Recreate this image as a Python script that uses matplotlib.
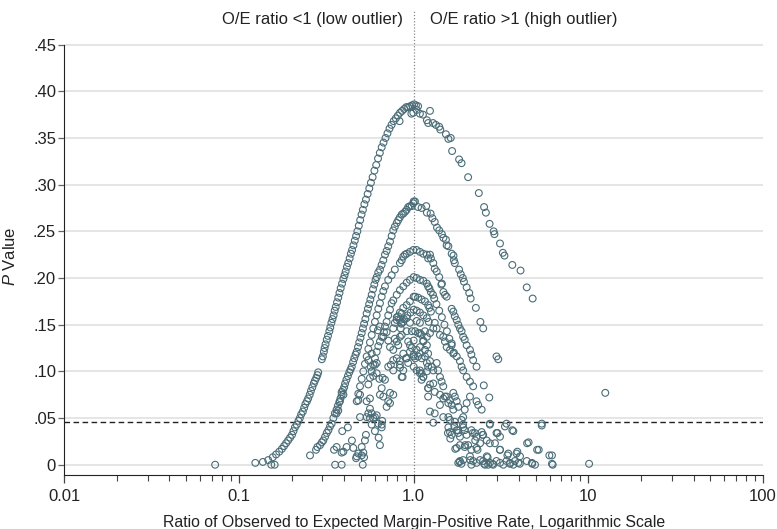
import matplotlib
matplotlib.use("Agg")
import matplotlib.pyplot as plt
from matplotlib.ticker import FixedLocator, LogLocator, NullFormatter

plt.rcParams['font.family'] = ['Liberation Sans Narrow', 'Liberation Sans', 'DejaVu Sans']
plt.rcParams['mathtext.fontset'] = 'custom'
plt.rcParams['mathtext.it'] = 'Liberation Sans:italic'

# (O/E ratio, P value), grouped by the visible arcs
arc_top_left = [
    (0.124, 0.002), (0.137, 0.003), (0.147, 0.005), (0.153, 0.000), (0.160, 0.000),
    (0.156, 0.008), (0.163, 0.011), (0.170, 0.014), (0.176, 0.017), (0.181, 0.020),
    (0.186, 0.023), (0.191, 0.026), (0.196, 0.029), (0.201, 0.032), (0.205, 0.036),
    (0.209, 0.040), (0.214, 0.043), (0.219, 0.047), (0.223, 0.050), (0.227, 0.054),
    (0.232, 0.057), (0.236, 0.061), (0.240, 0.065), (0.245, 0.068), (0.249, 0.071),
    (0.254, 0.075), (0.258, 0.079), (0.263, 0.083), (0.268, 0.087), (0.272, 0.090),
    (0.277, 0.093), (0.281, 0.096), (0.284, 0.099), (0.298, 0.113), (0.302, 0.116),
    (0.306, 0.121), (0.309, 0.125), (0.313, 0.129), (0.318, 0.134), (0.323, 0.138),
    (0.329, 0.143), (0.333, 0.147), (0.338, 0.152), (0.343, 0.156), (0.348, 0.160),
    (0.353, 0.165), (0.358, 0.169), (0.364, 0.174), (0.370, 0.179), (0.376, 0.184),
    (0.382, 0.189), (0.389, 0.194), (0.396, 0.199), (0.402, 0.203), (0.408, 0.207),
    (0.415, 0.212), (0.422, 0.216), (0.430, 0.221), (0.437, 0.226), (0.444, 0.230),
    (0.452, 0.235), (0.460, 0.240), (0.468, 0.245), (0.476, 0.250), (0.485, 0.256),
    (0.494, 0.262), (0.503, 0.268), (0.512, 0.273), (0.522, 0.279), (0.533, 0.284),
    (0.545, 0.290), (0.557, 0.296), (0.569, 0.302), (0.582, 0.308), (0.596, 0.315),
    (0.610, 0.321), (0.625, 0.328), (0.640, 0.334), (0.656, 0.340), (0.672, 0.345),
    (0.690, 0.350), (0.708, 0.355), (0.727, 0.360), (0.747, 0.364), (0.768, 0.368),
    (0.790, 0.371), (0.812, 0.374), (0.835, 0.377), (0.858, 0.379), (0.882, 0.381),
    (0.906, 0.383), (0.930, 0.383), (0.955, 0.384), (0.980, 0.385), (1.005, 0.386),
    (0.970, 0.376), (0.995, 0.377), (0.830, 0.368),
]

arc_top_right = [
    (1.030, 0.385), (1.060, 0.384), (1.040, 0.380), (1.086, 0.376), (1.130, 0.375),
    (1.190, 0.369), (1.240, 0.379), (1.210, 0.366), (1.290, 0.366), (1.340, 0.364),
    (1.400, 0.362), (1.420, 0.359), (1.530, 0.354), (1.580, 0.349), (1.630, 0.350),
    (1.660, 0.336), (1.820, 0.327), (1.880, 0.323), (2.050, 0.308), (2.360, 0.291),
    (2.530, 0.276), (2.590, 0.270), (2.720, 0.258), (2.870, 0.250), (2.900, 0.247),
    (3.120, 0.237), (3.240, 0.227), (3.310, 0.224), (3.670, 0.214), (4.090, 0.208),
    (4.440, 0.190), (4.800, 0.178),
]

arc_second = [
    (0.255, 0.010), (0.276, 0.016), (0.281, 0.019), (0.291, 0.021), (0.298, 0.024),
    (0.304, 0.026), (0.311, 0.030), (0.318, 0.034), (0.325, 0.037), (0.332, 0.041),
    (0.339, 0.044), (0.347, 0.050), (0.354, 0.055), (0.362, 0.059), (0.368, 0.063),
    (0.375, 0.067), (0.381, 0.071), (0.387, 0.075), (0.394, 0.080), (0.400, 0.083),
    (0.405, 0.087), (0.412, 0.091), (0.420, 0.095), (0.428, 0.099), (0.435, 0.102),
    (0.442, 0.105), (0.450, 0.110), (0.457, 0.114), (0.465, 0.118), (0.472, 0.121),
    (0.480, 0.126), (0.488, 0.131), (0.496, 0.136), (0.504, 0.141), (0.512, 0.146),
    (0.520, 0.151), (0.529, 0.156), (0.538, 0.162), (0.547, 0.167), (0.556, 0.172),
    (0.565, 0.177), (0.575, 0.182), (0.585, 0.188), (0.595, 0.193), (0.605, 0.198),
    (0.614, 0.201), (0.627, 0.206), (0.641, 0.209), (0.655, 0.214), (0.670, 0.219),
    (0.685, 0.225), (0.700, 0.229), (0.715, 0.234), (0.732, 0.239), (0.748, 0.245),
    (0.764, 0.251), (0.780, 0.255), (0.800, 0.259), (0.816, 0.262), (0.834, 0.265),
    (0.854, 0.268), (0.872, 0.269), (0.893, 0.271), (0.912, 0.273), (0.930, 0.276),
    (0.952, 0.277), (0.974, 0.277), (0.995, 0.280), (1.017, 0.282), (1.000, 0.282),
    (1.060, 0.276), (1.110, 0.275), (1.180, 0.277), (1.190, 0.270), (1.250, 0.269),
    (1.280, 0.264), (1.320, 0.260), (1.360, 0.254), (1.400, 0.251), (1.450, 0.247),
    (1.480, 0.243), (1.530, 0.241), (1.545, 0.235), (1.580, 0.234), (1.650, 0.226),
    (1.690, 0.224), (1.700, 0.219), (1.720, 0.216), (1.820, 0.209), (1.860, 0.204),
    (1.910, 0.200), (1.940, 0.196), (2.010, 0.190), (2.080, 0.184), (2.120, 0.178),
    (2.270, 0.168), (2.410, 0.153), (2.500, 0.146), (2.980, 0.116), (3.050, 0.113),
]

arc_third = [
    (0.482, 0.076), (0.493, 0.084), (0.504, 0.092), (0.515, 0.100), (0.526, 0.108),
    (0.538, 0.116), (0.550, 0.124), (0.562, 0.131), (0.575, 0.139), (0.587, 0.146),
    (0.600, 0.153), (0.614, 0.160), (0.627, 0.167), (0.641, 0.173), (0.656, 0.180),
    (0.670, 0.186), (0.685, 0.191), (0.715, 0.198), (0.748, 0.203), (0.780, 0.209),
    (0.834, 0.216), (0.854, 0.219), (0.872, 0.223), (0.892, 0.225), (0.912, 0.226),
    (0.952, 0.228), (0.995, 0.230), (1.040, 0.230), (1.086, 0.228), (1.135, 0.226),
    (1.190, 0.225), (1.210, 0.221), (1.240, 0.225), (1.255, 0.221), (1.295, 0.216),
    (1.320, 0.210), (1.354, 0.207), (1.400, 0.201), (1.450, 0.194), (1.440, 0.193),
    (1.480, 0.185), (1.510, 0.182), (1.545, 0.180), (1.650, 0.167), (1.686, 0.164),
    (1.720, 0.159), (1.763, 0.155), (1.800, 0.150), (1.840, 0.146), (1.880, 0.143),
    (1.920, 0.137), (1.960, 0.134), (2.010, 0.128), (2.100, 0.123), (2.140, 0.118),
    (2.190, 0.112), (2.290, 0.105),
]

arc_inner = [
    (0.550, 0.086), (0.562, 0.093), (0.575, 0.100), (0.587, 0.107), (0.600, 0.114),
    (0.614, 0.121), (0.627, 0.127), (0.641, 0.132), (0.656, 0.137), (0.676, 0.142),
    (0.685, 0.148), (0.700, 0.153), (0.715, 0.160), (0.732, 0.166), (0.748, 0.173),
    (0.764, 0.176), (0.800, 0.182), (0.834, 0.187), (0.872, 0.191), (0.912, 0.195),
    (0.952, 0.198), (1.000, 0.201), (1.040, 0.200), (1.086, 0.198), (1.135, 0.197),
    (1.190, 0.194), (1.210, 0.191), (1.230, 0.189), (1.255, 0.185), (1.290, 0.182),
    (1.310, 0.178), (1.350, 0.172), (1.400, 0.165), (1.450, 0.158), (1.500, 0.150),
    (1.550, 0.143), (1.600, 0.135), (1.650, 0.128), (1.700, 0.120),
    (0.764, 0.146), (0.780, 0.152), (0.800, 0.158), (0.834, 0.163), (0.872, 0.168),
    (0.912, 0.171), (0.952, 0.175), (1.000, 0.180), (1.020, 0.180), (1.060, 0.179),
    (1.110, 0.177), (1.160, 0.175), (1.210, 0.171), (1.230, 0.168), (1.255, 0.164),
    (0.850, 0.151), (0.880, 0.156), (0.920, 0.160), (0.960, 0.163), (1.000, 0.166),
    (1.040, 0.165), (1.086, 0.163), (1.135, 0.160), (1.190, 0.157), (1.220, 0.153),
]

scatter_left = [
    (0.073, 0.000), (0.493, 0.051), (0.538, 0.051), (0.550, 0.055), (0.562, 0.060),
    (0.575, 0.055), (0.587, 0.050), (0.600, 0.051), (0.614, 0.053), (0.627, 0.044),
    (0.641, 0.021), (0.656, 0.040), (0.700, 0.062), (0.715, 0.068), (0.732, 0.066),
    (0.764, 0.075), (0.732, 0.077), (0.670, 0.073), (0.641, 0.075), (0.656, 0.082),
    (0.685, 0.091), (0.664, 0.093), (0.636, 0.092), (0.614, 0.098), (0.587, 0.095),
    (0.567, 0.105), (0.550, 0.112), (0.575, 0.119), (0.600, 0.107), (0.614, 0.109),
    (0.624, 0.144), (0.641, 0.148), (0.670, 0.137), (0.700, 0.142), (0.715, 0.133),
    (0.732, 0.126), (0.764, 0.123), (0.780, 0.135), (0.800, 0.132), (0.816, 0.128),
    (0.834, 0.137), (0.854, 0.139), (0.764, 0.112), (0.800, 0.114), (0.834, 0.111),
    (0.872, 0.119), (0.912, 0.114), (0.952, 0.121), (1.000, 0.118), (0.834, 0.104),
    (0.854, 0.094), (0.715, 0.105), (0.740, 0.107), (0.764, 0.101), (0.800, 0.155),
    (0.816, 0.159), (0.854, 0.162), (0.872, 0.153), (0.912, 0.157), (0.952, 0.152),
    (0.952, 0.128), (0.930, 0.132), (1.000, 0.133), (0.387, 0.078), (0.396, 0.075),
    (0.378, 0.068), (0.362, 0.055), (0.370, 0.058), (0.482, 0.069), (0.493, 0.075),
    (0.472, 0.068), (0.538, 0.068), (0.562, 0.071), (0.472, 0.009), (0.504, 0.010),
    (0.515, 0.013), (0.451, 0.018), (0.413, 0.019), (0.387, 0.013), (0.396, 0.014),
    (0.362, 0.019), (0.350, 0.016), (0.355, 0.000), (0.387, 0.000), (0.511, 0.000),
    (0.468, 0.007), (0.526, 0.026), (0.504, 0.019), (0.482, 0.012), (0.575, 0.043),
    (0.656, 0.043), (0.562, 0.050), (0.533, 0.032), (0.630, 0.029), (0.443, 0.026),
    (0.520, 0.008), (0.390, 0.036), (0.420, 0.040), (0.600, 0.036), (0.660, 0.047),
]

scatter_right = [
    (1.040, 0.123), (1.086, 0.119), (1.110, 0.114), (1.160, 0.116), (1.190, 0.109),
    (1.210, 0.105), (1.086, 0.101), (1.110, 0.098), (1.135, 0.094), (1.210, 0.082),
    (1.210, 0.073), (1.086, 0.141), (1.135, 0.133), (1.190, 0.128), (1.040, 0.154),
    (1.086, 0.152), (0.834, 0.155), (0.853, 0.152), (0.843, 0.146), (0.912, 0.143),
    (0.976, 0.143), (1.020, 0.143), (1.060, 0.141), (1.110, 0.139), (1.160, 0.143),
    (1.190, 0.137), (1.240, 0.141), (1.295, 0.146), (1.320, 0.152), (1.354, 0.146),
    (1.414, 0.139), (1.477, 0.137), (1.510, 0.132), (1.545, 0.126), (1.614, 0.123),
    (1.650, 0.130), (1.686, 0.119), (1.763, 0.116), (1.840, 0.111), (1.880, 0.105),
    (1.920, 0.101), (2.010, 0.094), (2.100, 0.089), (2.190, 0.084), (2.290, 0.068),
    (2.340, 0.064), (2.450, 0.059), (2.100, 0.073), (2.010, 0.066), (1.960, 0.059),
    (1.920, 0.051), (1.880, 0.048), (0.904, 0.114), (0.976, 0.125), (1.000, 0.116),
    (1.020, 0.114), (1.060, 0.116), (1.086, 0.126), (1.135, 0.132), (1.160, 0.123),
    (1.210, 0.119), (1.240, 0.111), (1.270, 0.105), (1.295, 0.101), (1.354, 0.109),
    (1.380, 0.101), (1.414, 0.094), (1.445, 0.089), (1.477, 0.084), (1.295, 0.087),
    (1.240, 0.086), (1.210, 0.082), (1.320, 0.078), (1.414, 0.075), (1.477, 0.071),
    (1.545, 0.073), (1.614, 0.069), (1.686, 0.077), (1.720, 0.073), (1.763, 0.068),
    (1.800, 0.062), (1.686, 0.059), (1.580, 0.051), (1.477, 0.051), (1.614, 0.048),
    (1.720, 0.046), (1.414, 0.064), (1.240, 0.057), (1.320, 0.055), (1.295, 0.045),
    (1.510, 0.073), (1.580, 0.066), (1.650, 0.064), (1.086, 0.098), (1.135, 0.094),
    (1.190, 0.100), (1.110, 0.091), (1.040, 0.101), (1.000, 0.105), (0.930, 0.109),
    (0.872, 0.101), (0.864, 0.094), (0.834, 0.107), (2.520, 0.085), (2.710, 0.072),
    (12.50, 0.077),
]

scatter_low = [
    (1.580, 0.040), (1.614, 0.035), (1.650, 0.032), (1.763, 0.037), (1.800, 0.034),
    (1.840, 0.030), (1.920, 0.040), (1.960, 0.037), (2.010, 0.032), (2.140, 0.037),
    (2.240, 0.034), (2.290, 0.030), (2.450, 0.035), (2.500, 0.032), (2.620, 0.026),
    (2.730, 0.023), (2.730, 0.044), (2.980, 0.034), (3.120, 0.030), (3.400, 0.044),
    (3.720, 0.036), (4.550, 0.024), (5.200, 0.016), (5.410, 0.044), (5.410, 0.042),
    (6.190, 0.010), (3.120, 0.016), (3.480, 0.012), (3.880, 0.012), (4.060, 0.009),
    (2.400, 0.023), (2.290, 0.018), (2.140, 0.016), (2.050, 0.021), (1.960, 0.019),
    (1.840, 0.021), (1.763, 0.018), (2.100, 0.009), (2.190, 0.004), (2.400, 0.005),
    (2.500, 0.004), (2.620, 0.009), (2.730, 0.002), (2.980, 0.004), (3.120, 0.002),
    (3.400, 0.004), (3.560, 0.002), (3.800, 0.004), (3.970, 0.002), (4.440, 0.004),
    (4.750, 0.002), (4.950, 0.000), (6.250, 0.000), (1.840, 0.004), (1.920, 0.005),
    (1.800, 0.002), (2.140, 0.000), (2.290, 0.002), (2.560, 0.000), (2.670, 0.000),
    (2.850, 0.000), (3.260, 0.000), (3.720, 0.000), (1.570, 0.034), (1.620, 0.028),
    (1.710, 0.041), (1.790, 0.037), (1.915, 0.043), (1.730, 0.017), (1.830, 0.003),
    (1.875, 0.001), (1.970, 0.021), (2.110, 0.005), (2.180, 0.034), (2.250, 0.026),
    (2.320, 0.016), (2.480, 0.032), (2.530, 0.001), (2.650, 0.008), (2.730, 0.043),
    (2.830, 0.001), (2.920, 0.023), (3.020, 0.034), (3.120, 0.016), (3.330, 0.041),
    (3.440, 0.010), (3.560, 0.001), (3.670, 0.037), (3.920, 0.014), (4.050, 0.001),
    (4.460, 0.023), (4.770, 0.001), (5.090, 0.016), (5.980, 0.010), (6.190, 0.001),
    (10.10, 0.001),
]

groups = [arc_top_left, arc_top_right, arc_second, arc_third, arc_inner,
          scatter_left, scatter_right, scatter_low]

threshold = 0.046
x_ticks = [0.01, 0.1, 1.0, 10, 100]
x_tick_labels = ['0.01', '0.1', '1.0', '10', '100']
y_ticks = [0, 0.05, 0.10, 0.15, 0.20, 0.25, 0.30, 0.35, 0.40, 0.45]
y_tick_labels = ['0', '.05', '.10', '.15', '.20', '.25', '.30', '.35', '.40', '.45']

fig = plt.figure(figsize=(7.77, 5.29), dpi=100)
ax = fig.add_axes([0.0828, 0.1026, 0.8992, 0.8784])

for g in groups:
    xs = [pt[0] for pt in g]
    ps = [pt[1] for pt in g]
    ax.scatter(xs, ps, s=24, facecolors='none', edgecolors='#4a6d78',
               linewidths=0.8, zorder=3)

ax.set_xscale('log')
ax.set_xlim(0.01, 100)
ax.set_ylim(-0.0107, 0.487)

# reference lines
ax.axhline(threshold, color='#222222', lw=1.0, ls=(0, (4, 2.5)), zorder=2)
ax.axvline(1.0, color='#8a8a8a', lw=0.9, ls=(0, (1, 1.5)), zorder=2)

ax.xaxis.set_major_locator(FixedLocator(x_ticks))
ax.set_xticklabels(x_tick_labels)
ax.xaxis.set_minor_locator(LogLocator(base=10, subs=range(2, 10)))
ax.xaxis.set_minor_formatter(NullFormatter())
ax.set_yticks(y_ticks)
ax.set_yticklabels(y_tick_labels)

ax.grid(axis='y', color='#e0e0e0', lw=1.2, zorder=0)
ax.set_axisbelow(True)

for side in ['top', 'right']:
    ax.spines[side].set_visible(False)
ax.spines['left'].set_bounds(-0.0107, 0.45)
ax.spines['left'].set_color('#222222')
ax.spines['bottom'].set_color('#222222')

ax.tick_params(axis='x', which='major', length=6, width=0.9, color='#444444',
               labelsize=12, labelcolor='#222222', pad=4)
ax.tick_params(axis='x', which='minor', length=4, width=0.8, color='#444444')
ax.tick_params(axis='y', length=4, width=0.9, color='#666666',
               labelsize=12, labelcolor='#222222', pad=2)

ax.set_xlabel('Ratio of Observed to Expected Margin-Positive Rate, Logarithmic Scale',
              fontsize=11.4, color='#222222', labelpad=8)
ax.set_ylabel(r'$\mathit{P}$ Value', fontsize=12, color='#222222')
ax.yaxis.set_label_coords(-0.066, 0.47)

ax.annotate('O/E ratio <1 (low outlier)', xy=(1.0, 0.4765), xytext=(-8, 0),
            textcoords='offset points', ha='right', va='center', fontsize=12,
            color='#222222')
ax.annotate('O/E ratio >1 (high outlier)', xy=(1.0, 0.4765), xytext=(12, 0),
            textcoords='offset points', ha='left', va='center', fontsize=12,
            color='#222222')

fig.savefig('out.png', dpi=100)
